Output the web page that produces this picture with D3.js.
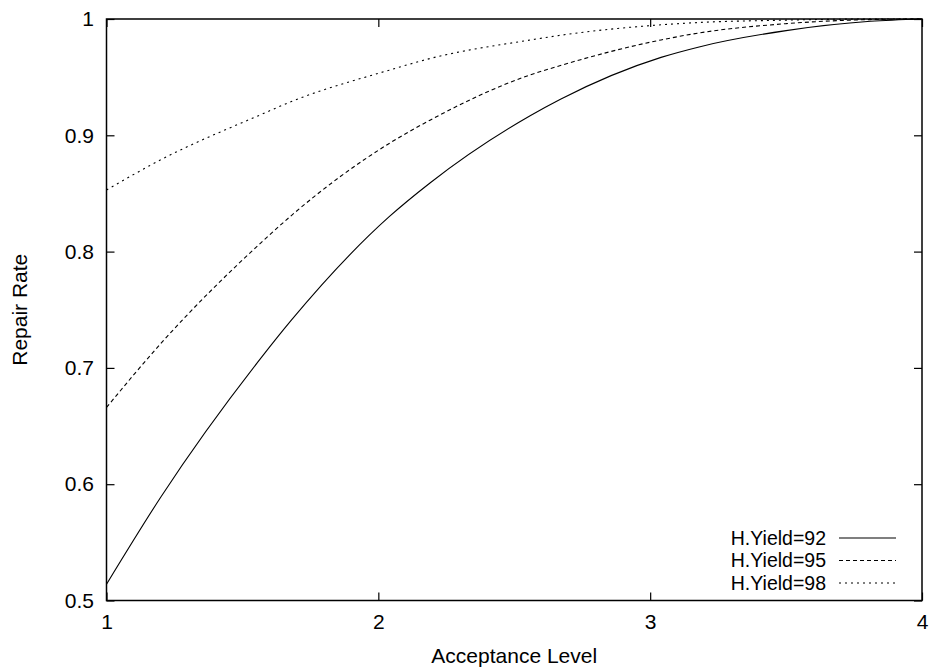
<!DOCTYPE html>
<html><head><meta charset="utf-8">
<script src="https://cdn.jsdelivr.net/npm/d3@7"></script>
<style>body{margin:0;background:#fff}svg{display:block}text{font-family:"Liberation Sans",Arial,Helvetica,sans-serif;fill:#000}</style>
</head><body>
<script>
const acceptance = [1, 1.2, 1.57, 1.68, 2.04, 2.19, 2.56, 2.67, 3.04, 3.18, 3.5, 3.81, 4];
const yield92 = [0.514, 0.589, 0.709, 0.741, 0.830, 0.859, 0.917, 0.931, 0.967, 0.976, 0.990, 0.998, 1];
const yield95 = [0.666, 0.721, 0.808, 0.831, 0.893, 0.913, 0.952, 0.960, 0.982, 0.988, 0.996, 0.9995, 1];
const yield98 = [0.853, 0.879, 0.918, 0.929, 0.956, 0.966, 0.982, 0.986, 0.995, 0.997, 0.999, 1, 1];
const seriesNames = ["H.Yield=92", "H.Yield=95", "H.Yield=98"];
const xTicks = [1, 2, 3, 4];
const yTicks = [0.5, 0.6, 0.7, 0.8, 0.9, 1];

const W = 935, H = 671;
const m = {left: 106.5, right: 922, top: 19, bottom: 600.5};
const dashes = [null, "4,3", "2,4"];
const seriesVals = [yield92, yield95, yield98];

const svg = d3.select("body").append("svg").attr("width", W).attr("height", H);
const x = d3.scaleLinear().domain([1, 4]).range([m.left, m.right]);
const y = d3.scaleLinear().domain([0.5, 1]).range([m.bottom, m.top]);
const fmt = d => String(d);
const fs = 21;
const legendFs = 19.5;

// ticks inward on all four sides
const tl = 8;
const gB = svg.append("g").attr("transform", `translate(0,${m.bottom})`)
  .call(d3.axisBottom(x).tickValues(xTicks).tickFormat(fmt).tickSizeInner(-tl).tickSizeOuter(0).tickPadding(14));
const gT = svg.append("g").attr("transform", `translate(0,${m.top})`)
  .call(d3.axisTop(x).tickValues(xTicks).tickFormat("").tickSizeInner(-tl).tickSizeOuter(0));
const gL = svg.append("g").attr("transform", `translate(${m.left},0)`)
  .call(d3.axisLeft(y).tickValues(yTicks).tickFormat(fmt).tickSizeInner(-tl).tickSizeOuter(0).tickPadding(12.5));
const gR = svg.append("g").attr("transform", `translate(${m.right},0)`)
  .call(d3.axisRight(y).tickValues(yTicks).tickFormat("").tickSizeInner(-tl).tickSizeOuter(0));
[gB, gT, gL, gR].forEach(g => {
  g.select(".domain").remove();
  g.selectAll(".tick line").attr("stroke", "#000").attr("stroke-width", 1.2);
  g.selectAll("text").attr("font-size", fs).attr("font-family", '"Liberation Sans",Arial,sans-serif').attr("fill", "#000");
});

// frame
svg.append("rect").attr("x", m.left).attr("y", m.top)
  .attr("width", m.right - m.left).attr("height", m.bottom - m.top)
  .attr("fill", "none").attr("stroke", "#000").attr("stroke-width", 1.5);

// curves
const line = d3.line().x(d => x(d[0])).y(d => y(d[1])).curve(d3.curveMonotoneX);
seriesVals.forEach((vals, i) => {
  svg.append("path").datum(acceptance.map((a, j) => [a, vals[j]]))
    .attr("d", line).attr("fill", "none").attr("stroke", "#000").attr("stroke-width", 1.1)
    .attr("stroke-dasharray", dashes[i]);
});

// legend
seriesNames.forEach((name, i) => {
  const ly = 538 + i * 22.5;
  svg.append("text").attr("x", 826).attr("y", ly).attr("dy", "0.35em")
    .attr("text-anchor", "end").attr("font-size", legendFs).text(name);
  svg.append("line").attr("x1", 839).attr("x2", 896).attr("y1", ly).attr("y2", ly)
    .attr("stroke", "#000").attr("stroke-width", 1.1).attr("stroke-dasharray", dashes[i]);
});

// axis titles
svg.append("text").attr("x", (m.left + m.right) / 2).attr("y", 663)
  .attr("text-anchor", "middle").attr("font-size", fs).text("Acceptance Level");
svg.append("text").attr("transform", `translate(27,${(m.top + m.bottom) / 2}) rotate(-90)`)
  .attr("text-anchor", "middle").attr("font-size", fs).text("Repair Rate");
</script>
</body></html>
